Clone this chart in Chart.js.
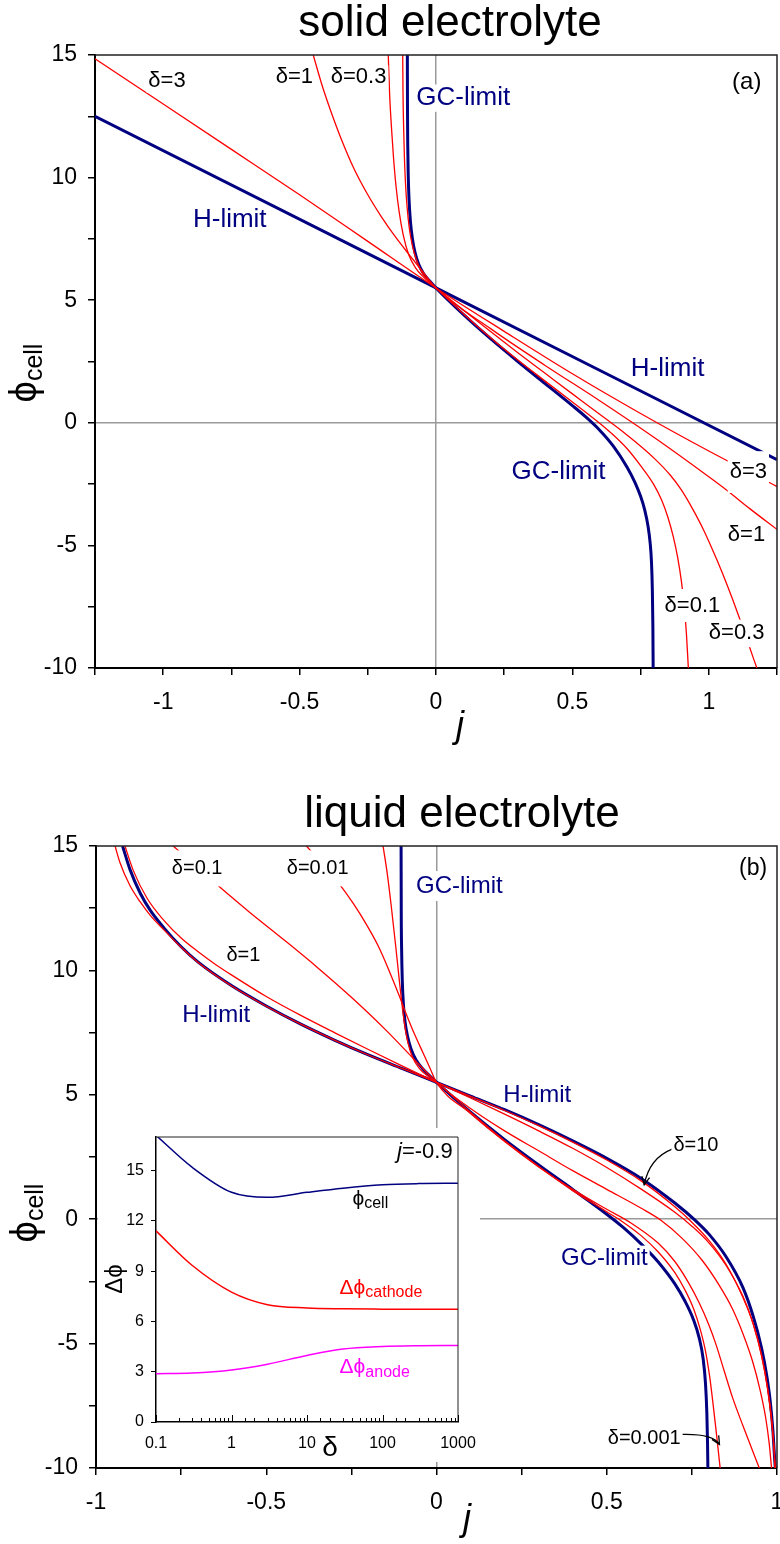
<!DOCTYPE html>
<html lang="en">
<head>
<meta charset="UTF-8">
<title>Cell potential vs current: solid and liquid electrolyte</title>
<script src="https://cdn.jsdelivr.net/npm/chart.js@4.4.1/dist/chart.umd.min.js"></script>
<style>
    body { margin: 0; background: #fff; }
    .wrap { position: relative; width: 780px; height: 1544px; overflow: hidden; }
    canvas { position: absolute; }
    #solid { left: 0; top: 0; }
    #liquid { left: 0; top: 760px; }
    #inset { left: 98px; top: 1128px; background: #fff; }
</style>
</head>
<body>
<div class="wrap">
    <canvas id="solid" width="780" height="760"></canvas>
    <canvas id="liquid" width="780" height="784"></canvas>
    <canvas id="inset" width="382" height="334"></canvas>
</div>
<script>
const FAMILY = '"Liberation Sans", Arial, sans-serif';
Chart.defaults.font.family = FAMILY;
Chart.defaults.color = '#000';
Chart.defaults.animation = false;

const NAVY = '#000080', RED = '#ff0000', MAGENTA = '#ff00ff';

// (a) solid electrolyte, [j, phi_cell]
const solidH   = [[-1.25, 12.5], [0, 5.5], [1.25, -1.5]];
const solidGC  = [[-0.105, 15], [-0.1045, 12.8], [-0.1035, 11.3], [-0.102, 10.2], [-0.099, 9.15], [-0.094, 8.25], [-0.087, 7.55], [-0.077, 6.95], [-0.063, 6.45], [-0.045, 6.08], [-0.024, 5.79], [0, 5.5], [0.1, 4.42], [0.2, 3.43], [0.3, 2.5], [0.4, 1.6], [0.5, 0.7], [0.55, 0.23], [0.6, -0.3], [0.65, -0.95], [0.7, -1.8], [0.73, -2.45], [0.75, -3.0], [0.765, -3.55], [0.777, -4.2], [0.785, -4.9], [0.79, -5.7], [0.793, -6.8], [0.795, -8.3], [0.796, -10]];
const solidD01 = [[-0.122, 15], [-0.121, 13.5], [-0.119, 12.2], [-0.116, 10.9], [-0.112, 9.8], [-0.106, 8.8], [-0.098, 7.95], [-0.087, 7.25], [-0.072, 6.65], [-0.05, 6.1], [-0.025, 5.77], [0, 5.5], [0.1, 4.45], [0.2, 3.47], [0.3, 2.56], [0.4, 1.7], [0.5, 0.85], [0.6, -0.02], [0.65, -0.5], [0.7, -1.05], [0.75, -1.75], [0.8, -2.55], [0.827, -3.15], [0.85, -3.85], [0.87, -4.65], [0.886, -5.5], [0.9, -6.5], [0.91, -7.5], [0.918, -8.6], [0.925, -10]];
const solidD03 = [[-0.175, 15], [-0.17, 13.4], [-0.163, 12.0], [-0.156, 10.85], [-0.147, 9.7], [-0.135, 8.6], [-0.12, 7.65], [-0.1, 6.85], [-0.075, 6.32], [-0.05, 5.99], [-0.025, 5.73], [0, 5.5], [0.1, 4.6], [0.2, 3.72], [0.3, 2.86], [0.4, 2.02], [0.5, 1.18], [0.6, 0.35], [0.7, -0.5], [0.8, -1.45], [0.86, -2.15], [0.9, -2.75], [0.94, -3.5], [0.98, -4.35], [1.03, -5.6], [1.07, -6.7], [1.107, -7.8], [1.14, -8.85], [1.176, -10]];
const solidD1  = [[-0.45, 15], [-0.42, 13.85], [-0.39, 12.85], [-0.35, 11.65], [-0.3, 10.35], [-0.25, 9.3], [-0.2, 8.4], [-0.15, 7.6], [-0.1, 6.88], [-0.05, 6.18], [0, 5.5], [0.2, 3.84], [0.4, 2.34], [0.6, 0.9], [0.8, -0.6], [1.0, -2.2], [1.066, -2.75], [1.15, -3.5], [1.25, -4.35]];
const solidD3  = [[-1.25, 14.85], [-1.0, 13.0], [-0.75, 11.15], [-0.5, 9.3], [-0.25, 7.4], [0, 5.5], [0.25, 3.73], [0.5, 2.0], [0.75, 0.38], [1.0, -1.15], [1.25, -2.6]];

// (b) liquid electrolyte, [j, phi_cell]
const liquidH     = [[-0.922, 15], [-0.9, 14.05], [-0.87, 13.1], [-0.84, 12.4], [-0.8, 11.7], [-0.75, 10.95], [-0.7, 10.33], [-0.6, 9.37], [-0.5, 8.57], [-0.4, 7.85], [-0.3, 7.2], [-0.2, 6.6], [-0.1, 6.05], [0, 5.5], [0.1, 4.95], [0.2, 4.4], [0.3, 3.8], [0.4, 3.15], [0.5, 2.45], [0.6, 1.65], [0.7, 0.65], [0.76, -0.05], [0.8, -0.6], [0.85, -1.5], [0.9, -2.75], [0.93, -3.9], [0.955, -5.2], [0.97, -6.3], [0.98, -7.3], [0.988, -8.5], [0.993, -9.6], [0.995, -10]];
const liquidGC    = [[-0.104, 15], [-0.1035, 12.3], [-0.1025, 10.9], [-0.1005, 9.6], [-0.097, 8.6], [-0.092, 7.9], [-0.085, 7.35], [-0.075, 6.85], [-0.06, 6.4], [-0.04, 6.04], [-0.02, 5.76], [0, 5.5], [0.1, 4.3], [0.2, 3.2], [0.3, 2.18], [0.4, 1.2], [0.5, 0.2], [0.55, -0.35], [0.6, -0.98], [0.65, -1.7], [0.7, -2.6], [0.73, -3.3], [0.755, -4.05], [0.772, -4.8], [0.783, -5.6], [0.79, -6.6], [0.794, -7.8], [0.796, -9], [0.797, -10]];
const liquidD10   = [[-0.944, 15], [-0.93, 14.35], [-0.9, 13.4], [-0.87, 12.75], [-0.84, 12.2], [-0.8, 11.62], [-0.75, 10.93], [-0.7, 10.32], [-0.6, 9.36], [-0.5, 8.56], [-0.4, 7.85], [-0.3, 7.2], [-0.2, 6.6], [-0.1, 6.05], [0, 5.5], [0.1, 4.94], [0.2, 4.37], [0.3, 3.76], [0.4, 3.1], [0.5, 2.38], [0.6, 1.55], [0.7, 0.5], [0.75, -0.12], [0.8, -0.85], [0.85, -1.8], [0.9, -3.15], [0.93, -4.2], [0.955, -5.5], [0.972, -6.75], [0.984, -8.0], [0.991, -9.1], [0.995, -10]];
const liquidD1    = [[-0.915, 15], [-0.89, 14.0], [-0.85, 12.9], [-0.8, 12.0], [-0.75, 11.3], [-0.7, 10.75], [-0.65, 10.25], [-0.6, 9.8], [-0.5, 8.95], [-0.4, 8.2], [-0.3, 7.5], [-0.2, 6.82], [-0.1, 6.15], [0, 5.5], [0.1, 4.87], [0.2, 4.22], [0.3, 3.55], [0.4, 2.85], [0.5, 2.08], [0.6, 1.22], [0.7, 0.28], [0.75, -0.28], [0.8, -0.95], [0.85, -1.85], [0.9, -3.1], [0.93, -4.2], [0.955, -5.5], [0.972, -6.8], [0.984, -8.1], [0.991, -9.2], [0.994, -10]];
const liquidD01   = [[-0.773, 15], [-0.7, 14.1], [-0.641, 13.4], [-0.55, 12.35], [-0.45, 11.25], [-0.35, 10.12], [-0.25, 8.92], [-0.15, 7.62], [-0.05, 6.2], [0, 5.5], [0.1, 4.45], [0.2, 3.55], [0.3, 2.75], [0.4, 1.95], [0.5, 1.2], [0.6, 0.45], [0.66, -0.05], [0.72, -0.75], [0.78, -1.65], [0.83, -2.65], [0.869, -3.6], [0.9, -4.6], [0.928, -5.7], [0.95, -6.85], [0.967, -8.0], [0.977, -9.0], [0.984, -10]];
const liquidD001  = [[-0.382, 15], [-0.33, 14.2], [-0.284, 13.45], [-0.245, 12.7], [-0.206, 11.85], [-0.17, 10.95], [-0.138, 9.95], [-0.11, 9.0], [-0.089, 8.25], [-0.065, 7.45], [-0.04, 6.7], [-0.02, 6.1], [0, 5.5], [0.1, 4.25], [0.2, 3.12], [0.3, 2.1], [0.4, 1.2], [0.5, 0.4], [0.571, -0.15], [0.65, -0.95], [0.7, -1.7], [0.74, -2.55], [0.771, -3.35], [0.8, -4.25], [0.82, -5.0], [0.845, -6.1], [0.869, -7.15], [0.9, -8.3], [0.928, -9.3], [0.948, -10]];
const liquidD0001 = [[-0.157, 15], [-0.145, 13.93], [-0.133, 12.6], [-0.12, 11.0], [-0.11, 9.7], [-0.102, 8.7], [-0.094, 7.85], [-0.084, 7.1], [-0.07, 6.5], [-0.05, 6.05], [-0.025, 5.75], [0, 5.5], [0.1, 4.3], [0.2, 3.15], [0.3, 2.12], [0.4, 1.15], [0.5, 0.3], [0.546, -0.1], [0.6, -0.65], [0.65, -1.3], [0.7, -2.15], [0.73, -2.85], [0.755, -3.6], [0.775, -4.45], [0.79, -5.3], [0.802, -6.3], [0.812, -7.4], [0.822, -8.6], [0.833, -10]];

// inset: potentials at j = -0.9 against delta
const insetDelta   = [0.1, 0.3, 1, 3, 10, 30, 100, 300, 1000];
const insetCell    = [17.1, 15.2, 13.7, 13.4, 13.7, 13.95, 14.15, 14.22, 14.24];
const insetCathode = [11.4, 9.35, 7.75, 7.0, 6.8, 6.75, 6.73, 6.72, 6.72];
const insetAnode   = [2.88, 2.92, 3.1, 3.45, 3.97, 4.35, 4.5, 4.55, 4.57];

const xy = arr => arr.map(p => ({ x: p[0], y: p[1] }));

function curve(points, color, width) {
    return {
        data: points, borderColor: color, borderWidth: width, pointRadius: 0,
        cubicInterpolationMode: 'monotone', fill: false
    };
}

// rich text: list of parts {t, size, italic, dy}
function fontOf(p) { return (p.italic ? 'italic ' : '') + p.size + 'px ' + FAMILY; }

function drawRich(ctx, lab, px, py) {
    const parts = lab.parts;
    let total = 0;
    const ws = parts.map(p => { ctx.font = fontOf(p); const w = ctx.measureText(p.t).width; total += w; return w; });
    let x = lab.align === 'left' ? px : lab.align === 'right' ? px - total : px - total / 2;
    if (lab.box) {
        // white backing so the curves break around the label
        const h = Math.max(...parts.map(p => p.size)) * lab.box;
        ctx.fillStyle = '#fff';
        ctx.fillRect(x - 2, py - h / 2, total + 4, h);
    }
    ctx.textAlign = 'left';
    ctx.textBaseline = 'middle';
    ctx.fillStyle = lab.color || '#000';
    parts.forEach((p, i) => { ctx.font = fontOf(p); ctx.fillText(p.t, x, py + (p.dy || 0)); x += ws[i]; });
}

function lab(x, y, t, size, color, box) {
    return { x, y, parts: [{ t, size }], color: color || '#000', box: box || 1.05 };
}

function arrowHead(ctx, fx, fy, tx, ty) {
    const a = Math.atan2(ty - fy, tx - fx), L = 9;
    ctx.beginPath();
    ctx.moveTo(tx - L * Math.cos(a - 0.45), ty - L * Math.sin(a - 0.45));
    ctx.lineTo(tx, ty);
    ctx.lineTo(tx - L * Math.cos(a + 0.45), ty - L * Math.sin(a + 0.45));
    ctx.stroke();
}

const decor = {
    id: 'decor',
    afterDatasetsDraw(chart, args, o) {
        const ctx = chart.ctx, a = chart.chartArea;
        const sx = chart.scales.x, sy = chart.scales.y;
        ctx.save();
        // remaining sides of the frame
        ctx.strokeStyle = '#222';
        ctx.lineWidth = o.frame || 1.5;
        ctx.beginPath();
        ctx.moveTo(a.left, a.top);
        ctx.lineTo(a.right, a.top);
        ctx.lineTo(a.right, a.bottom);
        ctx.stroke();

        // ticks pointing into the plot (inset log axis)
        if (o.innerTicks) {
            ctx.strokeStyle = '#000';
            ctx.lineWidth = 1;
            sx.ticks.forEach(t => {
                const px = Math.round(sx.getPixelForValue(t.value)) + 0.5;
                const lg = Math.log10(t.value);
                const len = Math.abs(lg - Math.round(lg)) < 1e-9 ? 7 : 4;
                ctx.beginPath();
                ctx.moveTo(px, a.bottom);
                ctx.lineTo(px, a.bottom - len);
                ctx.stroke();
            });
        }

        (o.arrows || []).forEach(ar => {
            const f = [sx.getPixelForValue(ar.from[0]), sy.getPixelForValue(ar.from[1])];
            const c = [sx.getPixelForValue(ar.ctrl[0]), sy.getPixelForValue(ar.ctrl[1])];
            const t = [sx.getPixelForValue(ar.to[0]), sy.getPixelForValue(ar.to[1])];
            ctx.strokeStyle = '#000';
            ctx.lineWidth = 1.3;
            ctx.beginPath();
            ctx.moveTo(f[0], f[1]);
            ctx.quadraticCurveTo(c[0], c[1], t[0], t[1]);
            ctx.stroke();
            arrowHead(ctx, c[0], c[1], t[0], t[1]);
        });

        (o.labels || []).forEach(l => drawRich(ctx, l, sx.getPixelForValue(l.x), sy.getPixelForValue(l.y)));

        (o.texts || []).forEach(l => {
            ctx.save();
            ctx.translate(l.px, l.py);
            if (l.rotate) ctx.rotate(-Math.PI / 2);
            drawRich(ctx, l, 0, 0);
            ctx.restore();
        });
        ctx.restore();
    }
};

function panelScales(xmin, xmax, leftW, bottomH) {
    const zeroGrid = c => (c.tick && Math.abs(c.tick.value) < 1e-9 ? '#9a9a9a' : 'rgba(0,0,0,0)');
    return {
        x: {
            type: 'linear', min: xmin, max: xmax,
            afterFit: s => { s.height = bottomH; s.paddingLeft = 0; s.paddingRight = 0; },
            border: { color: '#000', width: 2 },
            grid: { color: zeroGrid, lineWidth: 1.5, tickColor: '#000', tickWidth: 1.5, tickLength: 7 },
            ticks: {
                stepSize: 0.25, autoSkip: false, maxRotation: 0, padding: 14, font: { size: 23 },
                callback: v => {
                    const r = Math.round(v * 100) / 100;
                    return Number.isInteger(r * 2) && Math.abs(r) <= 1 ? String(r) : '';
                }
            }
        },
        y: {
            type: 'linear', min: -10, max: 15,
            afterFit: s => { s.width = leftW; s.paddingTop = 0; s.paddingBottom = 0; },
            border: { color: '#000', width: 2 },
            grid: { color: zeroGrid, lineWidth: 1.5, tickColor: '#000', tickWidth: 1.5, tickLength: 7 },
            ticks: {
                stepSize: 2.5, autoSkip: false, padding: 11, font: { size: 23 },
                callback: v => (Number.isInteger(v / 5) ? String(v) : '')
            }
        }
    };
}

const phiCellTitle = (px, py) => ({
    px, py, rotate: true, align: 'center',
    parts: [{ t: 'ϕ', size: 38 }, { t: 'cell', size: 25, dy: 9 }]
});

// (a) solid electrolyte
new Chart(document.getElementById('solid'), {
    type: 'line',
    data: {
        datasets: [
            curve(xy(solidD3), RED, 1.3),
            curve(xy(solidD1), RED, 1.3),
            curve(xy(solidD03), RED, 1.3),
            curve(xy(solidD01), RED, 1.3),
            curve(xy(solidH), NAVY, 3),
            curve(xy(solidGC), NAVY, 3)
        ]
    },
    options: {
        responsive: false,
        layout: { padding: { top: 55, right: 3, left: 0, bottom: 0 } },
        scales: panelScales(-1.25, 1.25, 95, 92),
        plugins: {
            legend: { display: false },
            tooltip: { enabled: false },
            decor: {
                labels: [
                    lab(-0.986, 13.94, 'δ=3', 22),
                    lab(-0.519, 14.1, 'δ=1', 22),
                    lab(-0.284, 14.1, 'δ=0.3', 22),
                    lab(0.1, 13.24, 'GC-limit', 26, NAVY),
                    lab(1.139, 13.9, '(a)', 24),
                    lab(-0.756, 8.27, 'H-limit', 26, NAVY),
                    lab(0.849, 2.21, 'H-limit', 26, NAVY),
                    lab(0.449, -2.01, 'GC-limit', 26, NAVY),
                    lab(1.145, -2.01, 'δ=3', 22, '#000', 1.9),
                    lab(1.138, -4.59, 'δ=1', 22),
                    lab(0.94, -7.45, 'δ=0.1', 22, '#000', 1.5),
                    lab(1.102, -8.59, 'δ=0.3', 22, '#000', 1.25)
                ],
                texts: [
                    { px: 450, py: 24, align: 'center', parts: [{ t: 'solid electrolyte', size: 44 }] },
                    { px: 460, py: 727, align: 'center', parts: [{ t: 'j', size: 36, italic: true }] },
                    phiCellTitle(26, 373)
                ]
            }
        }
    },
    plugins: [decor]
});

// (b) liquid electrolyte
new Chart(document.getElementById('liquid'), {
    type: 'line',
    data: {
        datasets: [
            curve(xy(liquidD10), RED, 1.3),
            curve(xy(liquidD1), RED, 1.3),
            curve(xy(liquidD01), RED, 1.3),
            curve(xy(liquidD001), RED, 1.3),
            curve(xy(liquidD0001), RED, 1.3),
            curve(xy(liquidH), NAVY, 3),
            curve(xy(liquidGC), NAVY, 3)
        ]
    },
    options: {
        responsive: false,
        layout: { padding: { top: 86, right: 3, left: 0, bottom: 0 } },
        scales: panelScales(-1, 1, 96, 76),
        plugins: {
            legend: { display: false },
            tooltip: { enabled: false },
            decor: {
                arrows: [
                    { from: [0.692, 2.82], ctrl: [0.625, 2.46], to: [0.61, 1.38] },
                    { from: [0.718, -8.65], ctrl: [0.812, -8.61], to: [0.831, -9.05] }
                ],
                labels: [
                    lab(-0.703, 14.1, 'δ=0.1', 20, '#000', 1.8),
                    lab(-0.349, 14.1, 'δ=0.01', 20, '#000', 1.8),
                    lab(0.067, 13.39, 'GC-limit', 24, NAVY, 1.25),
                    lab(0.93, 14.1, '(b)', 23),
                    lab(-0.567, 10.61, 'δ=1', 20),
                    lab(-0.647, 8.2, 'H-limit', 24, NAVY),
                    lab(0.296, 4.99, 'H-limit', 24, NAVY, 1.0),
                    lab(0.762, 2.98, 'δ=10', 20),
                    lab(0.493, -1.57, 'GC-limit', 24, NAVY),
                    lab(0.61, -8.8, 'δ=0.001', 20)
                ],
                texts: [
                    { px: 462, py: 55, align: 'center', parts: [{ t: 'liquid electrolyte', size: 44 }] },
                    { px: 467, py: 760, align: 'center', parts: [{ t: 'j', size: 36, italic: true }] },
                    phiCellTitle(27, 453)
                ]
            }
        }
    },
    plugins: [decor]
});

// inset: potentials at j = -0.9 against delta
const insetPoints = ys => insetDelta.map((d, i) => ({ x: d, y: ys[i] }));
new Chart(document.getElementById('inset'), {
    type: 'line',
    data: {
        datasets: [
            curve(insetPoints(insetCell), NAVY, 1.5),
            curve(insetPoints(insetCathode), RED, 1.5),
            curve(insetPoints(insetAnode), MAGENTA, 1.5)
        ]
    },
    options: {
        responsive: false,
        layout: { padding: { top: 9, right: 22, left: 0, bottom: 0 } },
        scales: {
            x: {
                type: 'logarithmic', min: 0.1, max: 1000,
                afterFit: s => { s.height = 40; s.paddingLeft = 0; s.paddingRight = 0; },
                border: { color: '#000', width: 1.5 },
                grid: { display: false, drawTicks: false },
                ticks: {
                    autoSkip: false, maxRotation: 0, padding: 12, font: { size: 16 },
                    callback: v => {
                        const lg = Math.log10(v);
                        return Math.abs(lg - Math.round(lg)) < 1e-9 ? String(v) : '';
                    }
                }
            },
            y: {
                type: 'linear', min: 0, max: 17,
                afterFit: s => { s.width = 58; s.paddingTop = 0; s.paddingBottom = 0; },
                border: { color: '#000', width: 1.5 },
                grid: { drawOnChartArea: false, tickColor: '#000', tickLength: 5, tickWidth: 1 },
                ticks: { stepSize: 3, includeBounds: false, padding: 7, font: { size: 16 } }
            }
        },
        plugins: {
            legend: { display: false },
            tooltip: { enabled: false },
            decor: {
                frame: 1,
                innerTicks: true,
                labels: [
                    { x: 850, y: 16.1, align: 'right', parts: [{ t: 'j', size: 22, italic: true }, { t: '=-0.9', size: 22 }] },
                    { x: 40, y: 13.3, align: 'left', parts: [{ t: 'ϕ', size: 21 }, { t: 'cell', size: 16, dy: 5 }] },
                    { x: 27, y: 8.0, align: 'left', color: RED, parts: [{ t: 'Δϕ', size: 21 }, { t: 'cathode', size: 16, dy: 5 }] },
                    { x: 27, y: 3.25, align: 'left', color: MAGENTA, parts: [{ t: 'Δϕ', size: 21 }, { t: 'anode', size: 16, dy: 5 }] }
                ],
                texts: [
                    { px: 232, py: 320, align: 'center', parts: [{ t: 'δ', size: 28 }] },
                    { px: 17, py: 151, rotate: true, align: 'center', parts: [{ t: 'Δϕ', size: 24 }] }
                ]
            }
        }
    },
    plugins: [decor]
});
</script>
</body>
</html>
